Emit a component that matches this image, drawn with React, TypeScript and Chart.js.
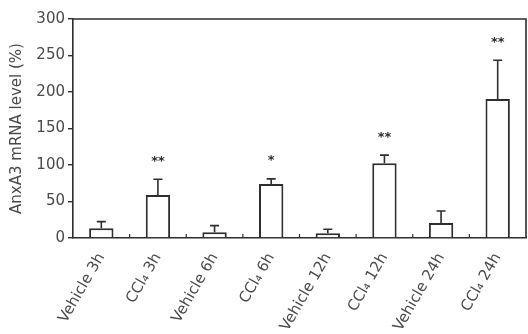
import React, { useEffect, useRef } from "react";
import { Chart, registerables } from "chart.js";

Chart.register(...registerables);

const categories = [
  "Vehicle 3h",
  "CCl₄ 3h",
  "Vehicle 6h",
  "CCl₄ 6h",
  "Vehicle 12h",
  "CCl₄ 12h",
  "Vehicle 24h",
  "CCl₄ 24h",
];
const means = [13.5, 59, 8, 74, 6.5, 102.5, 20.5, 190.5];
const errors = [9, 21.5, 9, 7, 5.5, 11, 16.5, 53];
const significance = ["", "**", "", "*", "", "**", "", "**"];
const yMin = 0;
const yMax = 300;
const yStep = 50;
const yTitle = "AnxA3 mRNA level (%)";

const INK = "#2e2e2e";
const TEXT = "#4a4a4a";
const FONT = "'DejaVu Sans', 'Liberation Sans', Arial, sans-serif";

const decorPlugin = {
  id: "decor",
  afterDatasetsDraw(chart: any) {
    const { ctx, chartArea } = chart;
    const yScale = chart.scales.y;
    const meta = chart.getDatasetMeta(0);
    ctx.save();
    ctx.strokeStyle = INK;
    ctx.lineWidth = 1.6;
    // frame top and right
    ctx.beginPath();
    ctx.moveTo(chartArea.left, chartArea.top);
    ctx.lineTo(chartArea.right, chartArea.top);
    ctx.lineTo(chartArea.right, chartArea.bottom);
    ctx.stroke();
    // inward x ticks at category boundaries
    const n = categories.length;
    const w = (chartArea.right - chartArea.left) / n;
    ctx.lineWidth = 1.2;
    for (let i = 1; i < n; i++) {
      const x = chartArea.left + i * w;
      ctx.beginPath();
      ctx.moveTo(x, chartArea.bottom);
      ctx.lineTo(x, chartArea.bottom - 4);
      ctx.stroke();
    }
    // error bars and significance
    ctx.lineWidth = 1.6;
    meta.data.forEach((bar: any, i: number) => {
      const x = bar.x;
      const yTop = yScale.getPixelForValue(means[i]);
      const yErr = yScale.getPixelForValue(means[i] + errors[i]);
      ctx.beginPath();
      ctx.moveTo(x, yTop);
      ctx.lineTo(x, yErr);
      ctx.moveTo(x - 4.5, yErr);
      ctx.lineTo(x + 4.5, yErr);
      ctx.stroke();
      if (significance[i]) {
        ctx.fillStyle = INK;
        ctx.font = `bold 13px ${FONT}`;
        ctx.textAlign = "center";
        ctx.textBaseline = "middle";
        ctx.fillText(significance[i], x, yErr - 18);
      }
    });
    ctx.restore();
  },
};

export default function App() {
  const ref = useRef<HTMLCanvasElement | null>(null);
  useEffect(() => {
    if (!ref.current) return;
    const chart = new Chart(ref.current, {
      type: "bar",
      data: {
        labels: categories,
        datasets: [
          {
            data: means,
            backgroundColor: "#ffffff",
            borderColor: INK,
            borderWidth: 2,
            barPercentage: 0.43,
            categoryPercentage: 1,
          },
        ],
      },
      options: {
        animation: false,
        responsive: false,
        maintainAspectRatio: false,
        layout: { padding: { top: 19, right: 2, left: 0, bottom: 0 } },
        plugins: { legend: { display: false }, tooltip: { enabled: false } },
        scales: {
          x: {
            grid: { display: false },
            border: { display: true, color: INK, width: 1.6 },
            ticks: {
              color: TEXT,
              font: { family: FONT, size: 15 },
              minRotation: 60,
              maxRotation: 60,
              autoSkip: false,
              padding: 4,
            },
            afterFit(scale: any) {
              scale.height = 96;
            },
          },
          y: {
            min: yMin,
            max: yMax,
            grid: {
              display: true,
              drawOnChartArea: false,
              drawTicks: true,
              tickLength: 5,
              color: INK,
              lineWidth: 1.4,
            },
            border: { display: true, color: INK, width: 1.6 },
            ticks: {
              stepSize: yStep,
              color: TEXT,
              font: { family: FONT, size: 15 },
              padding: 3,
            },
            title: {
              display: true,
              text: yTitle,
              color: TEXT,
              font: { family: FONT, size: 15 },
              padding: { top: 8, bottom: 0 },
            },
            afterFit(scale: any) {
              scale.width = 73;
            },
          },
        },
      },
      plugins: [decorPlugin],
    });
    return () => chart.destroy();
  }, []);
  return (
    <div style={{ position: "fixed", left: 0, top: 0, width: 528, height: 334, background: "#fff" }}>
      <canvas ref={ref} width={528} height={334} style={{ display: "block" }} />
    </div>
  );
}
